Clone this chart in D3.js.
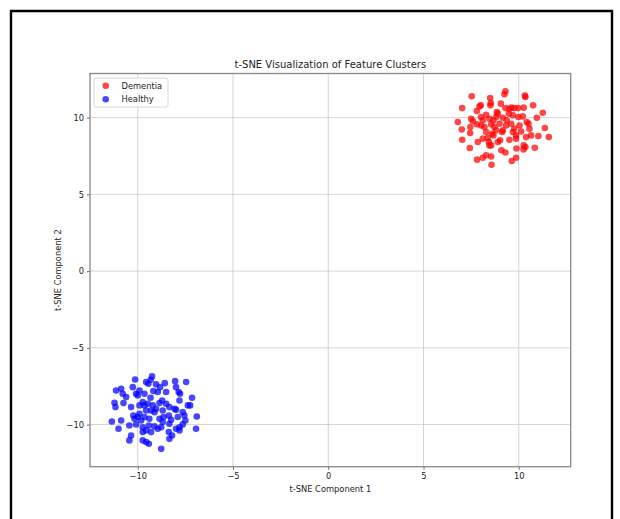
<!DOCTYPE html>
<html><head><meta charset="utf-8">
<script src="https://cdn.jsdelivr.net/npm/d3@7"></script>
<style>html,body{margin:0;padding:0;background:#fff}svg{display:block}</style>
</head><body>
<script>
const title = "t-SNE Visualization of Feature Clusters";
const xLabel = "t-SNE Component 1";
const yLabel = "t-SNE Component 2";
const seriesNames = ["Dementia", "Healthy"];
const seriesColors = ["#ff0000", "#0000ff"];
const xTicks = [-10, -5, 0, 5, 10];
const yTicks = [-10, -5, 0, 5, 10];

const dementiaX = [9.30,9.25,7.53,8.50,10.32,10.35,8.01,7.94,8.53,8.51,9.06,7.03,7.80,9.30,9.51,9.62,9.77,9.97,10.26,10.75,8.85,8.90,9.48,11.26,8.29,6.80,7.50,7.59,8.02,8.11,8.46,8.67,8.81,9.16,9.37,9.69,9.98,10.21,10.42,10.51,10.95,7.01,7.46,7.80,8.02,8.20,8.55,8.72,8.99,9.16,9.34,9.60,9.77,10.04,10.56,11.37,7.45,8.29,8.60,8.81,9.13,9.69,9.86,10.12,10.39,10.65,11.03,11.58,7.03,7.85,8.11,8.37,8.55,8.90,9.02,9.51,9.86,10.26,10.35,10.84,7.43,8.46,9.09,9.30,9.88,10.25,7.81,8.11,8.29,8.55,8.57,9.63,9.86,8.43,8.67];
const dementiaY = [11.71,11.52,11.39,11.28,11.43,11.34,10.80,10.73,10.95,10.80,10.91,10.62,10.43,10.62,10.58,10.65,10.62,10.62,10.65,10.80,10.36,10.26,10.26,10.32,10.19,9.71,9.93,9.78,10.04,9.82,9.93,9.82,10.04,9.99,9.82,10.15,10.04,10.08,9.71,9.60,9.99,9.23,9.39,9.56,9.49,9.39,9.56,9.39,9.60,9.17,9.49,9.60,9.28,9.49,9.28,9.32,8.99,9.06,8.95,9.17,9.06,9.06,8.84,9.10,8.73,8.84,8.80,8.73,8.56,8.41,8.63,8.67,8.19,8.41,8.52,8.56,8.63,8.19,8.08,8.04,8.02,8.19,7.87,7.73,7.99,7.93,7.26,7.39,7.54,7.47,6.93,7.17,7.39,8.41,8.84];

const healthyX = [-10.14,-9.25,-9.32,-9.56,-9.44,-10.26,-10.87,-10.79,-10.09,-10.00,-9.65,-9.04,-8.83,-8.58,-8.04,-7.46,-7.99,-8.51,-7.85,-7.78,-9.18,-8.95,-8.72,-8.86,-9.33,-9.74,-9.47,-9.91,-10.35,-11.22,-11.17,-10.75,-7.15,-7.37,-7.25,-7.81,-8.07,-7.99,-8.34,-8.51,-9.04,-9.30,-9.12,-9.56,-9.91,-10.23,-9.65,-10.00,-10.17,-9.82,-9.39,-8.86,-8.65,-8.37,-8.25,-7.90,-7.55,-6.90,-7.50,-7.64,-7.81,-7.99,-8.34,-8.69,-8.77,-9.12,-9.42,-9.74,-10.09,-10.44,-10.87,-11.36,-11.01,-10.35,-10.44,-9.74,-9.56,-9.30,-8.95,-8.37,-8.34,-8.20,-7.81,-6.94,-9.74,-9.56,-9.42,-8.77,-11.14,-10.61,-9.91,-8.69,-7.64,-9.65,-9.21];
const healthyY = [-7.06,-6.86,-7.08,-7.23,-7.34,-7.56,-7.67,-7.99,-7.99,-8.10,-7.99,-7.38,-7.56,-7.30,-7.17,-7.23,-7.56,-7.88,-7.88,-7.99,-7.82,-7.88,-8.43,-8.60,-8.25,-8.54,-8.64,-8.75,-8.86,-8.58,-8.86,-8.60,-8.25,-8.75,-8.75,-8.43,-8.97,-9.04,-8.86,-8.64,-8.97,-9.08,-9.19,-9.08,-9.30,-9.41,-9.51,-9.51,-9.62,-9.73,-9.62,-9.62,-9.51,-9.41,-9.69,-9.51,-9.41,-9.47,-9.73,-9.99,-10.17,-10.27,-9.95,-9.84,-10.17,-10.12,-10.06,-10.17,-9.99,-10.06,-9.73,-9.80,-10.27,-10.71,-11.03,-10.49,-10.38,-10.49,-10.27,-10.49,-10.93,-10.71,-10.38,-10.27,-11.03,-11.14,-11.25,-11.58,-7.78,-8.21,-7.78,-9.08,-9.19,-8.75,-8.75];

const W = 620, H = 519;
const plot = {left: 90, right: 570.7, top: 73.5, bottom: 466.7};

const svg = d3.select("body").append("svg").attr("width", W).attr("height", H)
  .style("font-family", "'DejaVu Sans', sans-serif");

// outer frame
svg.append("path").attr("d", `M11,${H} V11 H612 V${H}`)
  .attr("fill", "none").attr("stroke", "#000").attr("stroke-width", 2.4);

const allX = dementiaX.concat(healthyX), allY = dementiaY.concat(healthyY);
function padded(ext) { const p = (ext[1] - ext[0]) * 0.05; return [ext[0] - p, ext[1] + p]; }
const x = d3.scaleLinear().domain(padded(d3.extent(allX))).range([plot.left, plot.right]);
const y = d3.scaleLinear().domain(padded(d3.extent(allY))).range([plot.bottom, plot.top]);

const fmt = d => (d < 0 ? "\u2212" + Math.abs(d) : String(d));

// grid
const g = svg.append("g");
g.selectAll(".gx").data(xTicks).join("line")
  .attr("x1", d => x(d)).attr("x2", d => x(d)).attr("y1", plot.top).attr("y2", plot.bottom)
  .attr("stroke", "#b0b0b0").attr("stroke-opacity", 0.55).attr("stroke-width", 1);
g.selectAll(".gy").data(yTicks).join("line")
  .attr("y1", d => y(d)).attr("y2", d => y(d)).attr("x1", plot.left).attr("x2", plot.right)
  .attr("stroke", "#b0b0b0").attr("stroke-opacity", 0.55).attr("stroke-width", 1);

// points
const series = [
  {name: seriesNames[0], color: seriesColors[0], xs: dementiaX, ys: dementiaY},
  {name: seriesNames[1], color: seriesColors[1], xs: healthyX, ys: healthyY}
];
series.forEach(s => {
  svg.append("g").selectAll("circle").data(s.xs.map((v, i) => [v, s.ys[i]])).join("circle")
    .attr("cx", d => x(d[0])).attr("cy", d => y(d[1])).attr("r", 3.3)
    .attr("fill", s.color).attr("fill-opacity", 0.72);
});

// axes
const xAxis = d3.axisBottom(x).tickValues(xTicks).tickFormat(fmt).tickSize(3).tickPadding(3);
const yAxis = d3.axisLeft(y).tickValues(yTicks).tickFormat(fmt).tickSize(3).tickPadding(3);
const ax = svg.append("g").attr("transform", `translate(0,${plot.bottom})`).call(xAxis);
const ay = svg.append("g").attr("transform", `translate(${plot.left},0)`).call(yAxis);
[ax, ay].forEach(a => {
  a.select(".domain").remove();
  a.selectAll(".tick line").attr("stroke", "#444").attr("stroke-width", 0.8);
  a.selectAll(".tick text").attr("fill", "#222").style("font-size", "8.3px").style("font-family", "'DejaVu Sans', sans-serif");
});

// spines
svg.append("rect").attr("x", plot.left).attr("y", plot.top)
  .attr("width", plot.right - plot.left).attr("height", plot.bottom - plot.top)
  .attr("fill", "none").attr("stroke", "#888").attr("stroke-width", 1.3);

// title and labels
svg.append("text").attr("x", (plot.left + plot.right) / 2).attr("y", 67.5).attr("text-anchor", "middle")
  .attr("fill", "#222").style("font-size", "10px").text(title);
svg.append("text").attr("x", (plot.left + plot.right) / 2).attr("y", 492).attr("text-anchor", "middle")
  .attr("fill", "#222").style("font-size", "8.3px").text(xLabel);
svg.append("text").attr("transform", `translate(61,${(plot.top + plot.bottom) / 2}) rotate(-90)`)
  .attr("text-anchor", "middle").attr("fill", "#222").style("font-size", "8.3px").text(yLabel);

// legend
const lg = svg.append("g");
lg.append("rect").attr("x", 94).attr("y", 78).attr("width", 74).attr("height", 29).attr("rx", 2)
  .attr("fill", "#fff").attr("fill-opacity", 0.8).attr("stroke", "#ccc").attr("stroke-width", 0.8);
series.forEach((s, i) => {
  lg.append("circle").attr("cx", 105.7).attr("cy", 85.7 + i * 13.6).attr("r", 3.3)
    .attr("fill", s.color).attr("fill-opacity", 0.72);
  lg.append("text").attr("x", 121.5).attr("y", 85.7 + i * 13.6).attr("dy", "0.35em")
    .attr("fill", "#222").style("font-size", "8.3px").text(s.name);
});
</script>
</body></html>
